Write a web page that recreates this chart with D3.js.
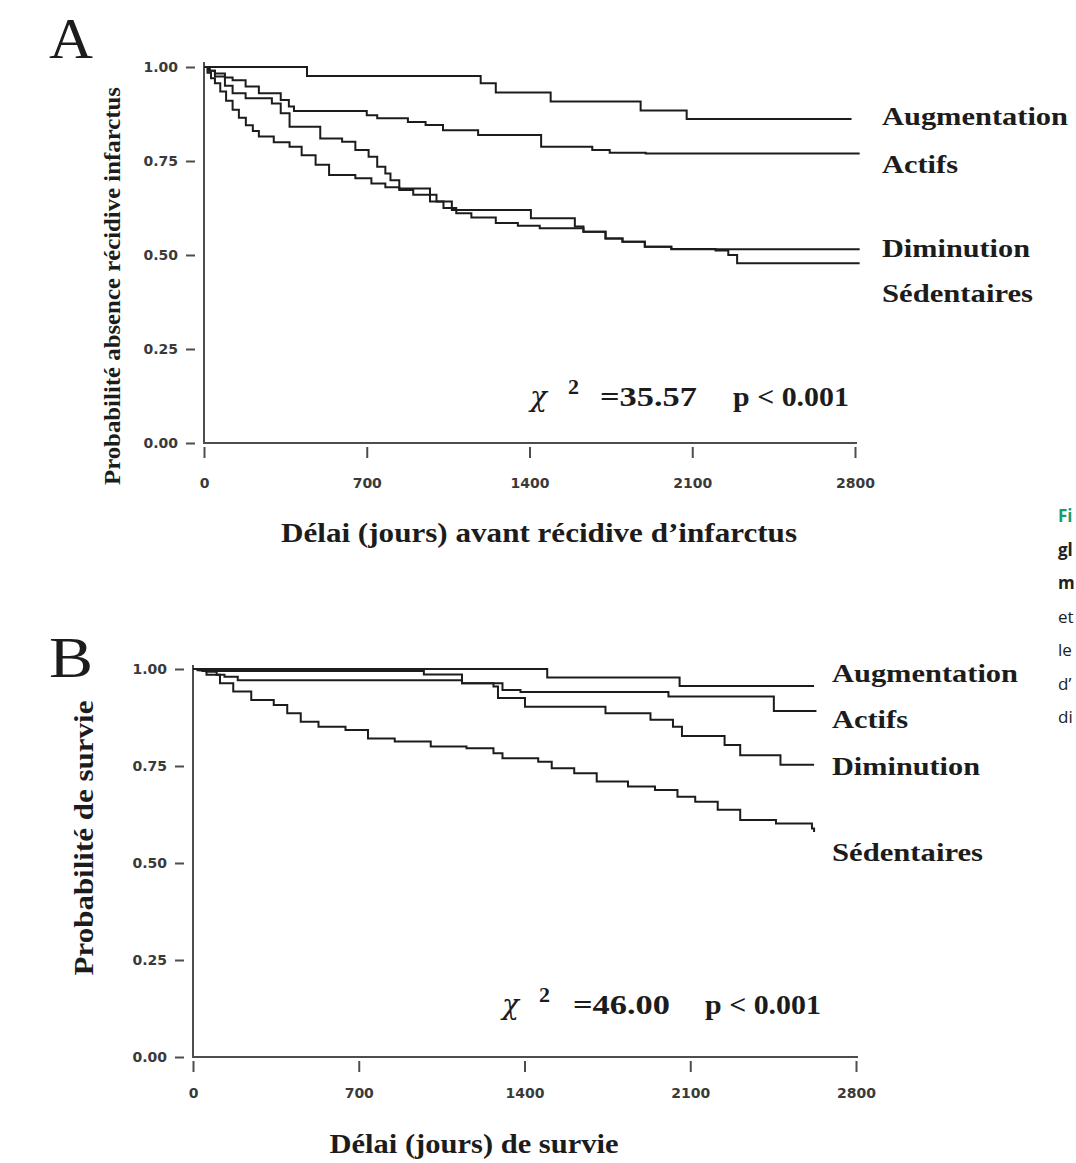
<!DOCTYPE html>
<html>
<head>
<meta charset="utf-8">
<script src="https://cdn.jsdelivr.net/npm/d3@7"></script>
<style>
body { margin: 0; background: #fff; }
svg { display: block; }
</style>
</head>
<body>
<svg id="fig" width="1076" height="1163"></svg>
<script>
// ---- data ----
const groups = ['Augmentation', 'Actifs', 'Diminution', 'Sédentaires'];
const xTicks = [0, 700, 1400, 2100, 2800];
const yTicks = [0, 0.25, 0.5, 0.75, 1];

// panel A: [jours, probabilité absence récidive]
const augmentationA = [[0, 1], [443, 0.976], [1190, 0.957], [1255, 0.932], [1491, 0.908], [1878, 0.884], [2076, 0.862], [2785, 0.862]];
const actifsA = [[0, 1], [25, 0.99], [47, 0.983], [90, 0.972], [123, 0.965], [179, 0.948], [236, 0.930], [330, 0.912], [365, 0.895], [387, 0.883],
    [700, 0.872], [745, 0.864], [877, 0.854], [953, 0.846], [1028, 0.832], [1179, 0.819], [1450, 0.788], [1670, 0.779], [1745, 0.772], [1900, 0.770], [2820, 0.770]];
const diminutionA = [[0, 1], [20, 0.99], [47, 0.975], [90, 0.95], [123, 0.930], [179, 0.917], [292, 0.903], [330, 0.877], [368, 0.841], [500, 0.810],
    [594, 0.801], [651, 0.779], [708, 0.761], [745, 0.735], [780, 0.717], [802, 0.699], [840, 0.677], [972, 0.660], [1000, 0.642], [1066, 0.620],
    [1406, 0.598], [1595, 0.576], [1632, 0.562], [1727, 0.544], [1800, 0.535], [1896, 0.522], [2010, 0.515], [2820, 0.515]];
const sedentairesA = [[0, 1], [15, 0.985], [30, 0.97], [47, 0.957], [70, 0.935], [95, 0.91], [123, 0.886], [150, 0.865], [180, 0.845], [210, 0.83],
    [236, 0.815], [300, 0.80], [368, 0.788], [420, 0.765], [480, 0.74], [538, 0.713], [651, 0.704], [720, 0.69], [780, 0.68], [840, 0.673],
    [900, 0.66], [972, 0.642], [1030, 0.625], [1085, 0.611], [1150, 0.60], [1255, 0.585], [1350, 0.578], [1444, 0.571], [1632, 0.562],
    [1727, 0.544], [1800, 0.535], [1896, 0.522], [2010, 0.516], [2200, 0.512], [2255, 0.500], [2293, 0.478], [2820, 0.478]];

// panel B: [jours, probabilité de survie]
const augmentationB = [[0, 1], [1496, 0.978], [2055, 0.956], [2623, 0.956]];
const actifsB = [[0, 1], [30, 0.997], [57, 0.993], [100, 0.985], [133, 0.980], [189, 0.971], [1136, 0.963], [1307, 0.946], [1383, 0.941],
    [2008, 0.929], [2453, 0.892], [2633, 0.892]];
const diminutionB = [[0, 1], [40, 0.995], [975, 0.986], [1136, 0.963], [1269, 0.955], [1288, 0.925], [1402, 0.903], [1742, 0.886], [1932, 0.869],
    [2027, 0.851], [2065, 0.827], [2245, 0.804], [2311, 0.778], [2481, 0.753], [2623, 0.753]];
const sedentairesB = [[0, 1], [19, 0.997], [57, 0.985], [114, 0.963], [170, 0.942], [246, 0.920], [341, 0.907], [398, 0.886], [455, 0.864],
    [530, 0.851], [644, 0.843], [739, 0.821], [852, 0.813], [1004, 0.800], [1155, 0.796], [1269, 0.783], [1307, 0.770], [1458, 0.761],
    [1515, 0.744], [1610, 0.731], [1705, 0.710], [1837, 0.697], [1951, 0.688], [2046, 0.671], [2121, 0.658], [2216, 0.637], [2311, 0.611],
    [2462, 0.602], [2614, 0.589], [2623, 0.580]];

const statsA = ['35.57', '0.001'];
const statsB = ['46.00', '0.001'];
const sideText = ['Fi', 'gl', 'm', 'et', 'le', 'd\u2019', 'di'];

// ---- layout ----
const serif = '"Liberation Serif", "Times New Roman", serif';
const sans = '"DejaVu Sans", Verdana, sans-serif';
const ink = '#1c1c1c';
const axisColor = '#4d4d4d';

const svg = d3.select('#fig');
svg.append('rect').attr('width', 1076).attr('height', 1163).attr('fill', '#fff');

const panels = [
    {
        letter: 'A', letterY: 58,
        left: 204, right: 855, top: 67, bottom: 443, axisTop: 62,
        series: [augmentationA, actifsA, diminutionA, sedentairesA],
        yTitle: 'Probabilité absence récidive infarctus', yTitleX: 120, yTitleY: 286, yTitleLen: 398, yTitleSize: 23,
        xTitle: 'Délai (jours) avant récidive d\u2019infarctus', xTitleX: 539, xTitleY: 542, xTitleLen: 516,
        xLabelPad: 35,
        legendX: 882, legendY: [125, 173, 257, 302],
        stats: statsA, statsY: 406, chiX: 530, supX: 568, eqX: 600, pX: 733
    },
    {
        letter: 'B', letterY: 677,
        left: 193, right: 856, top: 669, bottom: 1057, axisTop: 665,
        series: [augmentationB, actifsB, diminutionB, sedentairesB],
        yTitle: 'Probabilité de survie', yTitleX: 93, yTitleY: 838, yTitleLen: 275, yTitleSize: 28,
        xTitle: 'Délai (jours) de survie', xTitleX: 474, xTitleY: 1153, xTitleLen: 289,
        xLabelPad: 31,
        legendX: 832, legendY: [682, 728, 775, 861],
        stats: statsB, statsY: 1014, chiX: 502, supX: 539, eqX: 573, pX: 705
    }
];
const legendLen = [186, 76, 148, 151];

panels.forEach((p) => {
    const x = d3.scaleLinear().domain([0, 2800]).range([p.left, p.right]);
    const y = d3.scaleLinear().domain([0, 1]).range([p.bottom, p.top]);
    const g = svg.append('g');

    // panel letter
    g.append('text')
        .attr('x', 49).attr('y', p.letterY)
        .attr('font-family', serif).attr('font-size', 56)
        .attr('textLength', 44).attr('lengthAdjust', 'spacingAndGlyphs')
        .attr('fill', ink)
        .text(p.letter);

    // y axis
    const yAxis = g.append('g')
        .attr('transform', `translate(${p.left},0)`)
        .call(d3.axisLeft(y).tickValues(yTicks).tickFormat(d3.format('.2f')).tickSize(0).tickPadding(26));
    yAxis.select('.domain').remove();
    yAxis.selectAll('.tick').append('line')
        .attr('x1', -18).attr('x2', -9)
        .attr('stroke', axisColor).attr('stroke-width', 2);
    yAxis.selectAll('text')
        .attr('font-family', sans).attr('font-weight', 'bold').attr('font-size', 14)
        .attr('fill', '#3a3a3a');

    // x axis
    const xAxis = g.append('g')
        .attr('transform', `translate(0,${p.bottom})`)
        .call(d3.axisBottom(x).tickValues(xTicks).tickFormat(d3.format('d')).tickSize(0).tickPadding(p.xLabelPad));
    xAxis.select('.domain').remove();
    xAxis.selectAll('.tick').append('line')
        .attr('y1', 4).attr('y2', 15)
        .attr('stroke', axisColor).attr('stroke-width', 2);
    xAxis.selectAll('text')
        .attr('font-family', sans).attr('font-weight', 'bold').attr('font-size', 14)
        .attr('fill', '#3a3a3a');

    // axis lines
    g.append('path')
        .attr('d', `M${p.left},${p.axisTop}V${p.bottom}H${x(2800) + 2}`)
        .attr('fill', 'none').attr('stroke', axisColor).attr('stroke-width', 2);

    // survival curves
    const line = d3.line()
        .x((d) => x(d[0]))
        .y((d) => y(d[1]))
        .curve(d3.curveStepAfter);
    g.selectAll('path.curve')
        .data(p.series)
        .enter()
        .append('path')
        .attr('class', 'curve')
        .attr('d', line)
        .attr('fill', 'none')
        .attr('stroke', ink)
        .attr('stroke-width', 2);

    // group labels
    g.selectAll('text.group')
        .data(groups)
        .enter()
        .append('text')
        .attr('class', 'group')
        .attr('x', p.legendX)
        .attr('y', (d, i) => p.legendY[i])
        .attr('font-family', serif).attr('font-weight', 'bold').attr('font-size', 26)
        .attr('textLength', (d, i) => legendLen[i]).attr('lengthAdjust', 'spacingAndGlyphs')
        .attr('fill', ink)
        .text((d) => d);

    // y title
    g.append('text')
        .attr('transform', `translate(${p.yTitleX},${p.yTitleY}) rotate(-90)`)
        .attr('text-anchor', 'middle')
        .attr('font-family', serif).attr('font-weight', 'bold').attr('font-size', p.yTitleSize)
        .attr('textLength', p.yTitleLen).attr('lengthAdjust', 'spacingAndGlyphs')
        .attr('fill', ink)
        .text(p.yTitle);

    // x title
    g.append('text')
        .attr('x', p.xTitleX)
        .attr('y', p.xTitleY)
        .attr('text-anchor', 'middle')
        .attr('font-family', serif).attr('font-weight', 'bold').attr('font-size', 27)
        .attr('textLength', p.xTitleLen).attr('lengthAdjust', 'spacingAndGlyphs')
        .attr('fill', ink)
        .text(p.xTitle);

    // chi-square annotation
    g.append('text')
        .attr('x', p.chiX).attr('y', p.statsY)
        .attr('font-family', '"DejaVu Serif", serif').attr('font-style', 'italic').attr('font-size', 28)
        .attr('fill', ink)
        .text('\u03c7');
    g.append('text')
        .attr('x', p.supX).attr('y', p.statsY - 12)
        .attr('font-family', serif).attr('font-weight', 'bold').attr('font-size', 22)
        .attr('fill', ink)
        .text('2');
    g.append('text')
        .attr('x', p.eqX).attr('y', p.statsY)
        .attr('font-family', serif).attr('font-weight', 'bold').attr('font-size', 28)
        .attr('textLength', 97).attr('lengthAdjust', 'spacingAndGlyphs')
        .attr('fill', ink)
        .text(`=${p.stats[0]}`);
    g.append('text')
        .attr('x', p.pX).attr('y', p.statsY)
        .attr('font-family', serif).attr('font-weight', 'bold').attr('font-size', 28)
        .attr('textLength', 116).attr('lengthAdjust', 'spacingAndGlyphs')
        .attr('fill', ink)
        .text(`p < ${p.stats[1]}`);
});

// clipped caption at the right edge
svg.append('g')
    .selectAll('text')
    .data(sideText)
    .enter()
    .append('text')
    .attr('x', 1058)
    .attr('y', (d, i) => 522 + i * 33.5)
    .attr('font-family', '"Open Sans", sans-serif')
    .attr('font-size', 17)
    .attr('font-weight', (d, i) => (i < 3 ? 'bold' : 'normal'))
    .attr('fill', (d, i) => (i === 0 ? '#1a9a6c' : '#222'))
    .text((d) => d);
</script>
</body>
</html>
